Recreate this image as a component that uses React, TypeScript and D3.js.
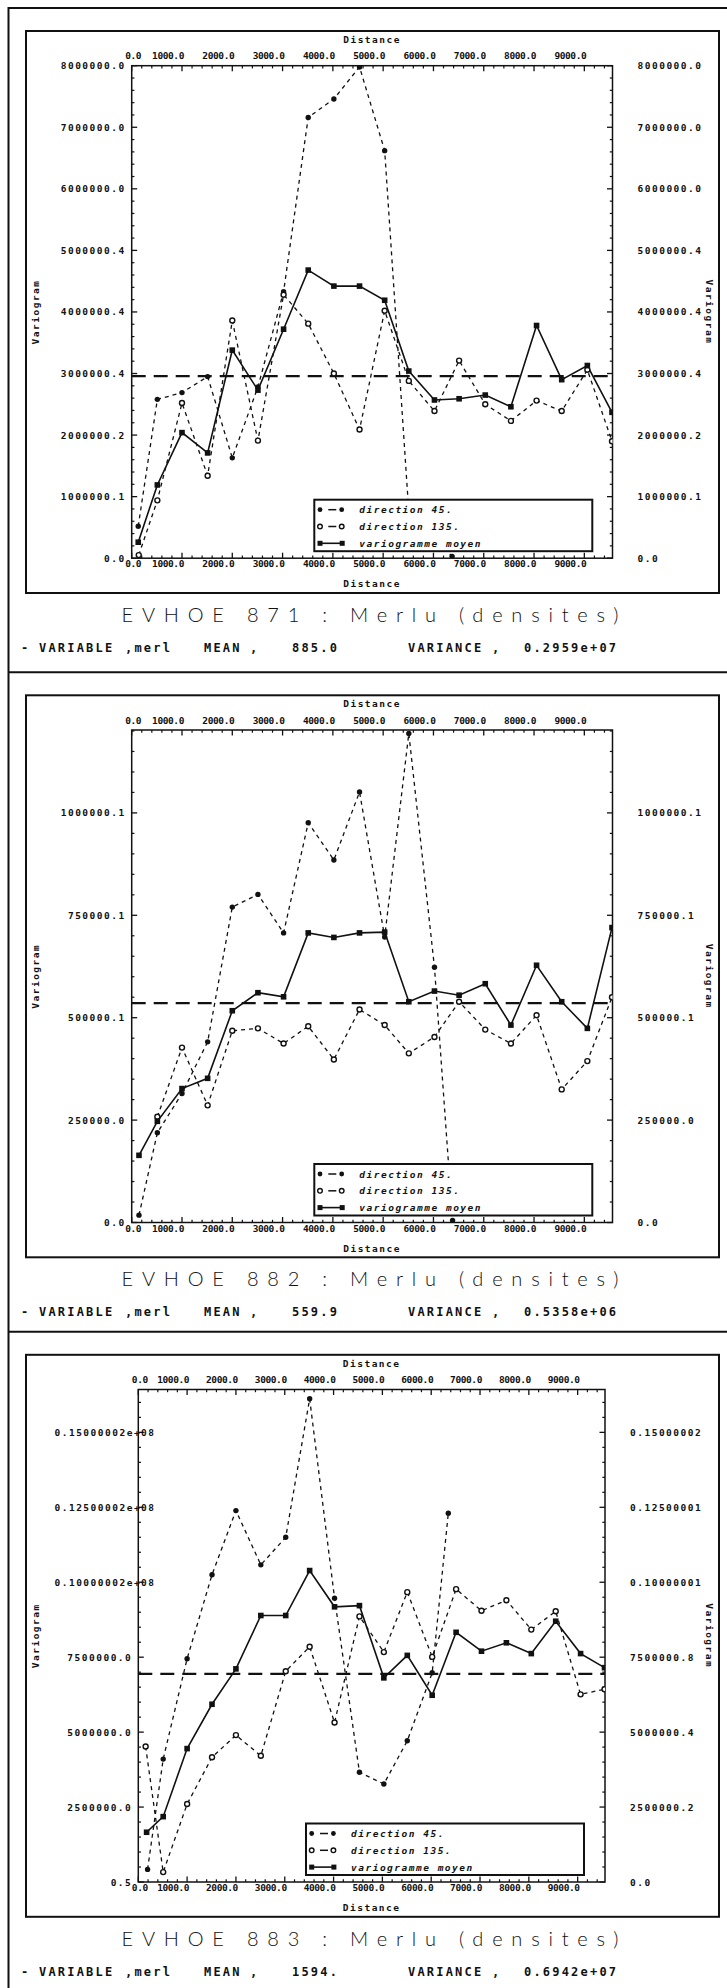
import React from 'react';
import * as d3 from 'd3';

// ---------- shared axis data ----------
const X_MAJOR = [0, 1000, 2000, 3000, 4000, 5000, 6000, 7000, 8000, 9000];
const X_LABELS = ['0.0', '1000.0', '2000.0', '3000.0', '4000.0', '5000.0', '6000.0', '7000.0', '8000.0', '9000.0'];
const LEGEND_LABELS = ['direction 45.', 'direction 135.', 'variogramme moyen'];

// ---------- EVHOE 871 ----------
const LAGS_871 = [130, 510, 1000, 1510, 2000, 2510, 3020, 3510, 4020, 4530, 5030, 5510, 6020, 6510, 7030, 7540, 8050, 8550, 9060, 9550];
const MEAN_871 = [0.26e6, 1.19e6, 2.04e6, 1.71e6, 3.38e6, 2.73e6, 3.72e6, 4.68e6, 4.42e6, 4.42e6, 4.19e6, 3.04e6, 2.57e6, 2.59e6, 2.65e6, 2.46e6, 3.78e6, 2.9e6, 3.13e6, 2.37e6];
const LAGS45_871 = [130, 510, 1000, 1510, 2000, 2510, 3020, 3510, 4020, 4530, 5030, 5510, 6370];
const DIR45_871 = [0.52e6, 2.58e6, 2.69e6, 2.95e6, 1.63e6, 2.78e6, 4.33e6, 7.16e6, 7.46e6, 7.98e6, 6.62e6, 0.75e6, 0.03e6];
const LAGS135_871 = [140, 510, 1000, 1510, 2000, 2510, 3020, 3510, 4020, 4530, 5030, 5510, 6020, 6510, 7030, 7540, 8050, 8550, 9060, 9550];
const DIR135_871 = [0.05e6, 0.94e6, 2.52e6, 1.34e6, 3.86e6, 1.91e6, 4.28e6, 3.81e6, 3.0e6, 2.09e6, 4.02e6, 2.88e6, 2.39e6, 3.21e6, 2.5e6, 2.23e6, 2.56e6, 2.39e6, 3.06e6, 1.9e6];
const YTICKS_871 = [0, 1e6, 2e6, 3e6, 4e6, 5e6, 6e6, 7e6, 8e6];
const YLAB_L_871 = ['0.0', '1000000.1', '2000000.2', '3000000.4', '4000000.4', '5000000.4', '6000000.0', '7000000.0', '8000000.0'];
const YLAB_R_871 = ['0.0', '1000000.1', '2000000.2', '3000000.4', '4000000.4', '5000000.4', '6000000.0', '7000000.0', '8000000.0'];

// ---------- EVHOE 882 ----------
const LAGS_882 = [145, 510, 1000, 1510, 2000, 2510, 3020, 3510, 4020, 4530, 5030, 5510, 6020, 6510, 7030, 7540, 8050, 8550, 9060, 9550];
const MEAN_882 = [164e3, 247e3, 327e3, 352e3, 517e3, 561e3, 551e3, 707e3, 696e3, 707e3, 709e3, 539e3, 565e3, 555e3, 583e3, 482e3, 628e3, 539e3, 474e3, 720e3];
const LAGS45_882 = [145, 510, 1000, 1510, 2000, 2510, 3020, 3510, 4020, 4530, 5030, 5510, 6020, 6380];
const DIR45_882 = [18e3, 219e3, 315e3, 441e3, 770e3, 801e3, 707e3, 976e3, 885e3, 1051e3, 697e3, 1194e3, 623e3, 5e3];
const LAGS135_882 = [510, 1000, 1510, 2000, 2510, 3020, 3510, 4020, 4530, 5030, 5510, 6020, 6510, 7030, 7540, 8050, 8550, 9060, 9550];
const DIR135_882 = [258e3, 427e3, 286e3, 468e3, 474e3, 437e3, 479e3, 398e3, 520e3, 482e3, 413e3, 453e3, 539e3, 471e3, 437e3, 506e3, 325e3, 394e3, 550e3];
const YTICKS_882 = [0, 250e3, 500e3, 750e3, 1000e3];
const YLAB_L_882 = ['0.0', '250000.0', '500000.1', '750000.1', '1000000.1'];
const YLAB_R_882 = ['0.0', '250000.0', '500000.1', '750000.1', '1000000.1'];

// ---------- EVHOE 883 ----------
const LAGS_883 = [170, 510, 1000, 1510, 2000, 2510, 3020, 3510, 4020, 4530, 5030, 5510, 6020, 6510, 7030, 7540, 8050, 8550, 9060, 9550];
const MEAN_883 = [1.66e6, 2.18e6, 4.45e6, 5.93e6, 7.11e6, 8.89e6, 8.89e6, 10.39e6, 9.18e6, 9.22e6, 6.81e6, 7.56e6, 6.23e6, 8.33e6, 7.7e6, 7.98e6, 7.62e6, 8.7e6, 7.62e6, 7.15e6];
const LAGS45_883 = [190, 510, 1000, 1510, 2000, 2510, 3020, 3510, 4020, 4530, 5030, 5510, 6020, 6350];
const DIR45_883 = [0.42e6, 4.1e6, 7.45e6, 10.25e6, 12.39e6, 10.58e6, 11.5e6, 16.12e6, 9.47e6, 3.66e6, 3.27e6, 4.71e6, 6.98e6, 12.3e6];
const LAGS135_883 = [150, 510, 1000, 1510, 2000, 2510, 3020, 3510, 4020, 4530, 5030, 5510, 6020, 6510, 7030, 7540, 8050, 8550, 9060, 9550];
const DIR135_883 = [4.52e6, 0.33e6, 2.6e6, 4.16e6, 4.9e6, 4.21e6, 7.03e6, 7.85e6, 5.32e6, 8.86e6, 7.67e6, 9.67e6, 7.51e6, 9.77e6, 9.05e6, 9.4e6, 8.42e6, 9.03e6, 6.26e6, 6.43e6];
const YTICKS_883 = [0, 2.5e6, 5e6, 7.5e6, 10e6, 12.5e6, 15e6];
const YLAB_L_883 = ['0.5', '2500000.0', '5000000.0', '7500000.0', '0.10000002e+08', '0.12500002e+08', '0.15000002e+08'];
const YLAB_R_883 = ['0.0', '2500000.2', '5000000.4', '7500000.8', '0.10000001', '0.12500001', '0.15000002'];

// ---------- layout ----------
const X_MAX = 9560;
const PLOT_H = 492.5;

const PANELS = [
  {
    id: '871', top: 65.7, left: 131.7, right: 612.5, yMax: 8e6, minorStep: 2e5, variance: 2.959e6,
    lags: LAGS_871, mean: MEAN_871, lags45: LAGS45_871, dir45: DIR45_871, lags135: LAGS135_871, dir135: DIR135_871,
    yTicks: YTICKS_871, yLabL: YLAB_L_871, yLabR: YLAB_R_871,
    title: 'EVHOE 871 : Merlu (densites)', meanTxt: '885.0', varTxt: '0.2959e+07', legendX: 314.3,
  },
  {
    id: '882', top: 730, left: 131.7, right: 612.5, yMax: 1.2024e6, minorStep: 5e4, variance: 0.5358e6,
    lags: LAGS_882, mean: MEAN_882, lags45: LAGS45_882, dir45: DIR45_882, lags135: LAGS135_882, dir135: DIR135_882,
    yTicks: YTICKS_882, yLabL: YLAB_L_882, yLabR: YLAB_R_882,
    title: 'EVHOE 882 : Merlu (densites)', meanTxt: '559.9', varTxt: '0.5358e+06', legendX: 314.3,
  },
  {
    id: '883', top: 1389.5, left: 138.3, right: 605, yMax: 16.43e6, minorStep: 5e5, variance: 6.942e6,
    lags: LAGS_883, mean: MEAN_883, lags45: LAGS45_883, dir45: DIR45_883, lags135: LAGS135_883, dir135: DIR135_883,
    yTicks: YTICKS_883, yLabL: YLAB_L_883, yLabR: YLAB_R_883,
    title: 'EVHOE 883 : Merlu (densites)', meanTxt: '1594.', varTxt: '0.6942e+07', legendX: 306,
  },
];

const PLOT_FONT: React.CSSProperties = {
  fontFamily: '"DejaVu Sans Mono", "Liberation Mono", monospace',
  fontWeight: 700,
  fontSize: 9.5,
  letterSpacing: 1.5,
};
const XLAB_FONT: React.CSSProperties = {
  fontFamily: '"DejaVu Sans Mono", "Liberation Mono", monospace',
  fontWeight: 700,
  fontSize: 9.5,
  letterSpacing: -0.4,
};
const STATS_FONT: React.CSSProperties = {
  fontFamily: '"DejaVu Sans Mono", "Liberation Mono", monospace',
  fontWeight: 700,
  fontSize: 12,
  letterSpacing: 2.2,
};
const TITLE_FONT: React.CSSProperties = {
  fontFamily: 'Lato, "Liberation Sans", sans-serif',
  fontWeight: 300,
  fontSize: 20,
};

type Pt = [number, number];

function Panel({ cfg }: { cfg: typeof PANELS[number] }) {
  const top = cfg.top;
  const bottom = cfg.top + PLOT_H;
  const x = d3.scaleLinear().domain([0, X_MAX]).range([cfg.left, cfg.right]);
  const y = d3.scaleLinear().domain([0, cfg.yMax]).range([bottom, top]);
  const line = d3.line<Pt>().x((d) => x(d[0])).y((d) => y(d[1]));

  const meanPts: Pt[] = cfg.lags.map((l, i) => [l, cfg.mean[i]]);
  const d45: Pt[] = cfg.lags45.map((l, i) => [l, cfg.dir45[i]]);
  const d135: Pt[] = cfg.lags135.map((l, i) => [l, cfg.dir135[i]]);

  const xMinor = d3.range(0, X_MAX, 200).filter((v) => v % 1000 !== 0);
  const yMajorStep = cfg.yTicks[1] - cfg.yTicks[0];
  const yMinor = d3
    .range(0, cfg.yMax + 1, cfg.minorStep)
    .filter((v) => Math.abs(v / yMajorStep - Math.round(v / yMajorStep)) > 1e-6);

  const midY = (top + bottom) / 2;
  const midX = (cfg.left + cfg.right) / 2;
  const clipId = `clip-${cfg.id}`;
  const sepY = top - 57.7;
  const innerTop = top - 34.7;
  const innerBottom = bottom + 34.8;
  const lx = cfg.legendX;
  const lTop = bottom - 58.5;
  const lH = 51.5;
  const pitch = 7.22;

  const stats = [
    { t: '-', x: 21 },
    { t: 'VARIABLE', x: 39 },
    { t: ',merl', x: 125 },
    { t: 'MEAN', x: 204 },
    { t: ',', x: 250 },
    { t: cfg.meanTxt, x: 292 },
    { t: 'VARIANCE', x: 408 },
    { t: ',', x: 492 },
    { t: cfg.varTxt, x: 524 },
  ];

  return (
    <g>
      <defs>
        <clipPath id={clipId}>
          <rect x={cfg.left} y={top} width={cfg.right - cfg.left} height={PLOT_H} />
        </clipPath>
      </defs>
      {/* panel separator + inner frame */}
      <line x1={8.5} x2={727} y1={sepY} y2={sepY} stroke="#111" strokeWidth={2} />
      <rect x={26} y={innerTop} width={719 - 26} height={innerBottom - innerTop} fill="none" stroke="#111" strokeWidth={2} />

      {/* plot frame */}
      <rect x={cfg.left} y={top} width={cfg.right - cfg.left} height={PLOT_H} fill="none" stroke="#111" strokeWidth={1.5} />

      {/* x ticks top & bottom */}
      {X_MAJOR.map((v) => (
        <g key={`xm${v}`}>
          <line x1={x(v)} x2={x(v)} y1={top} y2={top + 5.5} stroke="#111" strokeWidth={1.3} />
          <line x1={x(v)} x2={x(v)} y1={bottom} y2={bottom - 5.5} stroke="#111" strokeWidth={1.3} />
        </g>
      ))}
      {xMinor.map((v) => (
        <g key={`xn${v}`}>
          <line x1={x(v)} x2={x(v)} y1={top} y2={top + 2.7} stroke="#111" strokeWidth={1.2} />
          <line x1={x(v)} x2={x(v)} y1={bottom} y2={bottom - 2.7} stroke="#111" strokeWidth={1.2} />
        </g>
      ))}
      {/* y ticks left & right */}
      {cfg.yTicks.map((v) => (
        <g key={`ym${v}`}>
          <line x1={cfg.left} x2={cfg.left + 5.5} y1={y(v)} y2={y(v)} stroke="#111" strokeWidth={1.3} />
          <line x1={cfg.right} x2={cfg.right - 5.5} y1={y(v)} y2={y(v)} stroke="#111" strokeWidth={1.3} />
        </g>
      ))}
      {yMinor.map((v) => (
        <g key={`yn${v}`}>
          <line x1={cfg.left} x2={cfg.left + 2.7} y1={y(v)} y2={y(v)} stroke="#111" strokeWidth={1.2} />
          <line x1={cfg.right} x2={cfg.right - 2.7} y1={y(v)} y2={y(v)} stroke="#111" strokeWidth={1.2} />
        </g>
      ))}

      {/* x tick labels */}
      {X_MAJOR.map((v, i) => {
        const anchorMid = i === 0;
        const tx = anchorMid ? x(v) + 1.5 : x(v) + 2;
        return (
          <g key={`xl${v}`} style={XLAB_FONT} fill="#111">
            <text x={tx} y={top - 10} textAnchor={anchorMid ? 'middle' : 'end'} dominantBaseline="central">{X_LABELS[i]}</text>
            <text x={tx} y={bottom + 5.5} textAnchor={anchorMid ? 'middle' : 'end'} dominantBaseline="central">{X_LABELS[i]}</text>
          </g>
        );
      })}
      {/* y tick labels */}
      {cfg.yTicks.map((v, i) => {
        const lab = cfg.yLabL[i];
        const long = lab.length > 10;
        return (
          <g key={`yl${v}`} style={PLOT_FONT} fill="#111">
            <text
              x={long ? cfg.left - 8 - 10.5 * pitch : cfg.left - 6}
              y={y(v)}
              textAnchor={long ? 'start' : 'end'}
              dominantBaseline="central"
            >
              {lab}
            </text>
            <text x={cfg.right + 25} y={y(v)} textAnchor="start" dominantBaseline="central">
              {cfg.yLabR[i]}
            </text>
          </g>
        );
      })}

      {/* axis titles */}
      <g style={PLOT_FONT} fill="#111">
        <text x={midX} y={top - 26.4} textAnchor="middle" dominantBaseline="central">Distance</text>
        <text x={midX} y={bottom + 25.6} textAnchor="middle" dominantBaseline="central">Distance</text>
        <text transform={`translate(35,${midY}) rotate(-90)`} textAnchor="middle" dominantBaseline="central">Variogram</text>
        <text transform={`translate(709,${midY}) rotate(90)`} textAnchor="middle" dominantBaseline="central">Variogram</text>
      </g>

      {/* series */}
      <g clipPath={`url(#${clipId})`}>
        <line x1={cfg.left} x2={cfg.right} y1={y(cfg.variance)} y2={y(cfg.variance)} stroke="#111" strokeWidth={2.2} strokeDasharray="14 8" />
        <path d={line(d45) || ''} fill="none" stroke="#111" strokeWidth={1.3} strokeDasharray="4 4" />
        <path d={line(d135) || ''} fill="none" stroke="#111" strokeWidth={1.3} strokeDasharray="4 4" />
        <path d={line(meanPts) || ''} fill="none" stroke="#111" strokeWidth={1.6} />
        {d45.map((p, i) => (
          <circle key={`a${i}`} cx={x(p[0])} cy={y(p[1])} r={2.7} fill="#111" />
        ))}
        {d135.map((p, i) => (
          <circle key={`b${i}`} cx={x(p[0])} cy={y(p[1])} r={2.5} fill="#fff" stroke="#111" strokeWidth={1.4} />
        ))}
        {meanPts.map((p, i) => (
          <rect key={`c${i}`} x={x(p[0]) - 2.8} y={y(p[1]) - 2.8} width={5.6} height={5.6} fill="#111" />
        ))}
      </g>

      {/* legend */}
      <g>
        <rect x={lx} y={lTop} width={278} height={lH} fill="#fff" stroke="#111" strokeWidth={2} />
        {LEGEND_LABELS.map((lab, i) => {
          const ry = lTop + 10 + i * 16.8;
          return (
            <g key={lab}>
              {i === 0 && (
                <>
                  <circle cx={lx + 5.7} cy={ry} r={2.4} fill="#111" />
                  <line x1={lx + 14} x2={lx + 22} y1={ry} y2={ry} stroke="#111" strokeWidth={1.5} />
                  <circle cx={lx + 27.4} cy={ry} r={2.4} fill="#111" />
                </>
              )}
              {i === 1 && (
                <>
                  <circle cx={lx + 5.7} cy={ry} r={2.3} fill="#fff" stroke="#111" strokeWidth={1.4} />
                  <line x1={lx + 14} x2={lx + 22} y1={ry} y2={ry} stroke="#111" strokeWidth={1.5} />
                  <circle cx={lx + 27.4} cy={ry} r={2.3} fill="#fff" stroke="#111" strokeWidth={1.4} />
                </>
              )}
              {i === 2 && (
                <>
                  <rect x={lx + 3.2} y={ry - 2.5} width={5} height={5} fill="#111" />
                  <line x1={lx + 6} x2={lx + 27} y1={ry} y2={ry} stroke="#111" strokeWidth={1.6} />
                  <rect x={lx + 25.4} y={ry - 2.5} width={5} height={5} fill="#111" />
                </>
              )}
              <text x={lx + 45} y={ry} dominantBaseline="central" style={{ ...PLOT_FONT, fontStyle: 'italic' }} fill="#111">
                {lab}
              </text>
            </g>
          );
        })}
      </g>

      {/* title */}
      <text
        x={370}
        y={bottom + 55.5}
        textAnchor="middle"
        dominantBaseline="central"
        textLength={497}
        lengthAdjust="spacing"
        style={TITLE_FONT}
        fill="#111"
      >
        {cfg.title}
      </text>

      {/* stats line */}
      <g style={STATS_FONT} fill="#111">
        {stats.map((s, i) => (
          <text key={i} x={s.x} y={bottom + 89.5} dominantBaseline="central">
            {s.t}
          </text>
        ))}
      </g>
    </g>
  );
}

export default function App() {
  return (
    <svg
      width={727}
      height={1988}
      viewBox="0 0 727 1988"
      style={{ position: 'absolute', left: 0, top: 0, background: '#fff' }}
    >
      <rect x={0} y={0} width={727} height={1988} fill="#fff" />
      <line x1={8.5} x2={8.5} y1={7} y2={1988} stroke="#111" strokeWidth={2} />
      {PANELS.map((p) => (
        <Panel key={p.id} cfg={p} />
      ))}
    </svg>
  );
}
